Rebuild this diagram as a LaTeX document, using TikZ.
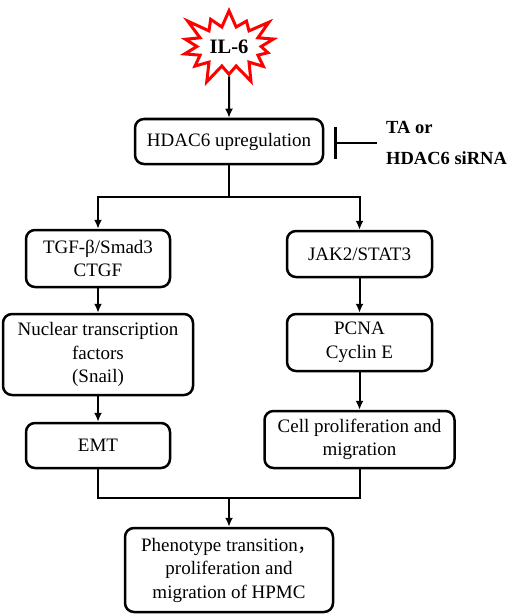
\documentclass[tikz,border=0pt]{standalone}
\usepackage{fontspec}
\setmainfont{Liberation Serif}
\newfontfamily\cjk{Noto Sans CJK SC}
\usetikzlibrary{shapes.symbols,arrows.meta}

\begin{document}
\begin{tikzpicture}[x=1pt, y=-1pt,
    font=\fontsize{19}{23.5}\selectfont,
    box/.style={draw, line width=2.5pt, rounded corners=9pt, align=center, inner sep=0pt},
    link/.style={line width=2pt},
    arr/.style={link, -{Latex[length=9pt,width=8pt]}}
]
\useasboundingbox (0,0) rectangle (512,615);

\node[starburst, draw=red, fill=white, line width=3pt, starburst points=14,
      starburst point height=22pt, minimum width=86pt, minimum height=84pt,
      font=\bfseries\fontsize{20.5}{24}\selectfont] (il6) at (229,46.5) {IL-6};

\node[box, minimum width=188pt, minimum height=45pt] (hdac) at (229,141.5) {HDAC6 upregulation};
\node[anchor=west, inner xsep=9pt, inner ysep=0pt, align=left,
      font=\bfseries\fontsize{18.5}{31}\selectfont] (ta) at (377,143) {TA or\\HDAC6 siRNA};

\node[box, minimum width=144pt, minimum height=57pt] (tgf) at (98,258.5) {TGF-β/Smad3\\CTGF};
\node[box, minimum width=145pt, minimum height=46pt] (jak) at (359.5,254) {JAK2/STAT3};
\node[box, minimum width=190pt, minimum height=81pt] (nuc) at (98,354.5) {Nuclear transcription\\factors\\(Snail)};
\node[box, minimum width=145pt, minimum height=57pt] (pcna) at (359.5,342.5) {PCNA\\Cyclin E};
\node[box, minimum width=144pt, minimum height=45pt] (emt) at (98,445.5) {EMT};
\node[box, minimum width=190pt, minimum height=57pt] (cell) at (359.5,439.5) {Cell proliferation and\\migration};
\node[box, minimum width=208pt, minimum height=84pt] (pheno) at (229,570) {Phenotype transition{\cjk ，}\\proliferation and\\migration of HPMC};

\coordinate (split) at (229,197);
\coordinate (join) at (229,498);

\draw[arr] (il6) -- (hdac);
\draw[link, -{Bar[width=32pt,line width=2.5pt]}, shorten >=10pt] (ta.west) -- (ta.west -| hdac.east);
\draw[link] (hdac) -- (split);
\draw[arr] (split) -| (tgf);
\draw[arr] (split) -| (jak);
\draw[arr] (tgf) -- (nuc);
\draw[arr] (jak) -- (pcna);
\draw[arr] (nuc) -- (emt);
\draw[arr] (pcna) -- (cell);
\draw[link] (emt) |- (join);
\draw[link] (cell) |- (join);
\draw[arr] (join) -- (pheno);
\end{tikzpicture}
\end{document}
